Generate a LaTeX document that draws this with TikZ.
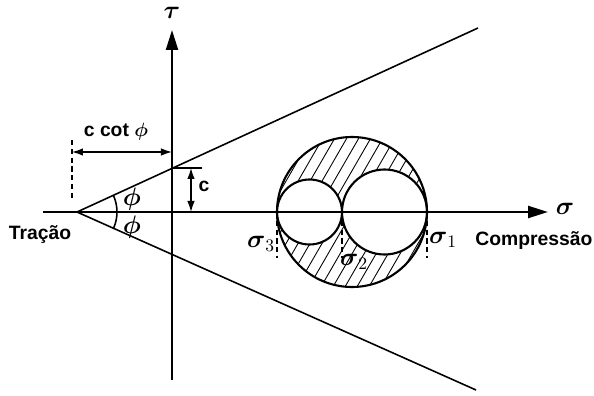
\documentclass[tikz,border=0pt]{standalone}
\usepackage{amsmath,amssymb}
\usepackage{fontspec}
\setmainfont{Liberation Sans}
\usepackage{tikz}
\usetikzlibrary{arrows.meta,
calc}

\begin{document}
\begin{tikzpicture}[
				x=0.2mm, y=0.2mm,
				axis/.style={
					line width=1.3pt,
					-{Triangle[length=4mm,width=2.4mm]}
				},
				envelope/.style={line width=0.9pt},
				mohr/.style={line width=1.2pt},
				dimline/.style={
					line width=0.8pt,
					{Latex[length=2.2mm,width=1.5mm]}-{Latex[length=2.2mm,width=1.5mm]}
				},
				guide/.style={line width=0.6pt, dash pattern=on 3pt off 2pt},
				hatch/.style={line width=0.5pt},
				label/.style={font=\bfseries\fontsize{11}{13}\selectfont, inner sep=1pt},
				greek/.style={font=\fontsize{14}{16}\selectfont, inner sep=1pt}
				]
				\useasboundingbox (-172,-184) rectangle (422,212);
				
				% eixos
				\coordinate (origin) at (0,0);
				\coordinate (tbottom) at (0,-168);
				\coordinate (ttop) at (0,182);
				\coordinate (sleft) at (-129,0);
				\coordinate (sright) at (376,0);
				\draw[axis] (tbottom) -- (ttop);
				\draw[axis] (sleft) -- (sright);
				\node[greek] (tau) at (0,199) {$\boldsymbol{\tau}$};
				\node[greek] (sigma) at (393,3) {$\boldsymbol{\sigma}$};
				\node[label] (tracao) at (-132,-23) {Tração};
				\node[label] (compressao) at (362,-29) {Compressão};
				
				% envoltoria
				\coordinate (vertex) at (-95,0);
				\coordinate (upperend) at (306,184);
				\coordinate (lowerend) at (304,-178);
				\draw[envelope] (vertex) -- (upperend);
				\draw[envelope] (vertex) -- (lowerend);
				\draw[envelope] ($(vertex)+(-24.6:40)$) arc (-24.6:24.6:40);
				\node[greek] (phiup) at (-40,13) {$\boldsymbol{\phi}$};
				\node[greek] (phidown) at (-40,-15) {$\boldsymbol{\phi}$};
				
				% cotas
				\coordinate (cotleft) at (-100,60);
				\coordinate (cotright) at (0,60);
				\draw[guide] (-100,72) -- (-100,12);
				\draw[dimline] (cotleft) -- (cotright);
				\node[label] (cotlabel) at (-56,80) {c cot $\boldsymbol{\phi}$};
				\coordinate (ctop) at (19,44);
				\coordinate (cbottom) at (19,0);
				\draw[line width=0.8pt] (0,44) -- (30,44);
				\draw[dimline] (ctop) -- (cbottom);
				\node[label] (clabel) at (32,26) {c};
				
				% circulos de Mohr
				\begin{scope}[even odd rule]
					\clip (180,0) circle (75) (137.5,0) circle (32.5) (212.5,0) circle (42.5);
					\foreach \x in {-10,2,...,290}
						\draw[hatch] (\x,-80) -- ++(60:185);
				\end{scope}
				\draw[mohr] (180,0) circle (75);
				\draw[mohr] (137.5,0) circle (32.5);
				\draw[mohr] (212.5,0) circle (42.5);
				
				\coordinate (s3) at (105,0);
				\coordinate (s2) at (170,0);
				\coordinate (s1) at (255,0);
				\draw[guide] (s3) -- ++(0,-46);
				\draw[guide] (s2) -- ++(0,-46);
				\draw[guide] (s1) -- ++(0,-46);
				\node[greek] (s3label) at (89,-32) {$\boldsymbol{\sigma}_3$};
				\node[greek] (s2label) at (182,-50) {$\boldsymbol{\sigma}_2$};
				\node[greek] (s1label) at (271,-28) {$\boldsymbol{\sigma}_1$};
			\end{tikzpicture}
\end{document}
